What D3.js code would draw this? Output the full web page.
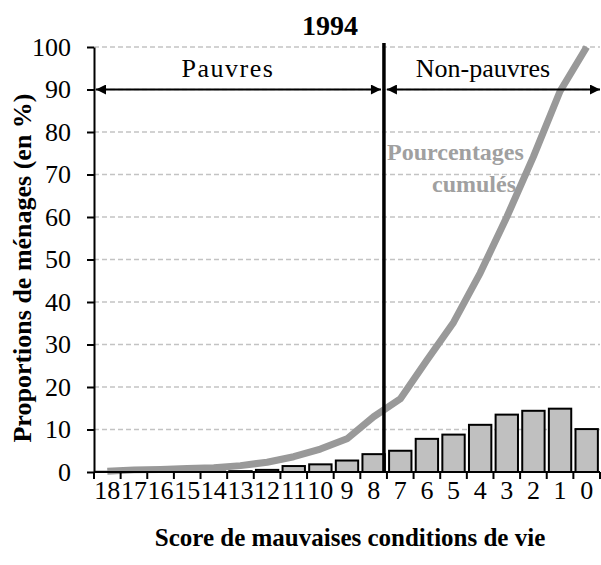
<!DOCTYPE html>
<html>
<head>
<meta charset="utf-8">
<script src="https://cdn.jsdelivr.net/npm/d3@7"></script>
<style>
  html, body { margin: 0; padding: 0; background: #fff; }
  svg { display: block; }
  svg text { font-family: "Liberation Serif", "Times New Roman", "DejaVu Serif", serif; }
</style>
</head>
<body>
<svg id="chart" width="601" height="565"></svg>
<script>
// Score categories, from worst (18) to best (0)
const scores = ["18","17","16","15","14","13","12","11","10","9","8","7","6","5","4","3","2","1","0"];
// Share of households at each score (%)
const shares = [0.05, 0.1, 0.1, 0.1, 0.1, 0.2, 0.5, 1.4, 1.8, 2.7, 4.2, 5.0, 7.8, 8.8, 11.1, 13.5, 14.4, 14.9, 10.1];
// Cumulated share of households (%)
const cumulated = [0.2, 0.5, 0.6, 0.8, 1.0, 1.5, 2.3, 3.6, 5.4, 7.8, 13.0, 17.2, 26.3, 35.2, 46.8, 60.0, 74.2, 89.6, 100];
const yTicks = [0, 10, 20, 30, 40, 50, 60, 70, 80, 90, 100];
const povertyCut = "7";        // first non-poor score
const arrowLevel = 90;

const serif = '"Liberation Serif", "Times New Roman", serif';
const svg = d3.select("#chart").attr("font-family", serif);
const plotLeft = 94, plotRight = 600, plotTop = 47, plotBottom = 472;

const x = d3.scaleBand().domain(scores).range([plotLeft, plotRight]).padding(0);
const y = d3.scaleLinear().domain([0, 100]).range([plotBottom, plotTop]);
const bw = x.bandwidth();

// horizontal dashed gridlines
svg.append("g").selectAll("line").data(yTicks.filter(d => d > 0)).join("line")
  .attr("x1", plotLeft).attr("x2", plotRight)
  .attr("y1", d => y(d)).attr("y2", d => y(d))
  .attr("stroke", "#c3c3c3").attr("stroke-width", 1.5)
  .attr("stroke-dasharray", "5,3");

// bars
svg.append("g").selectAll("rect").data(scores).join("rect")
  .attr("x", d => x(d) + bw * 0.08)
  .attr("width", bw * 0.84)
  .attr("y", (d, i) => y(shares[i]))
  .attr("height", (d, i) => y(0) - y(shares[i]))
  .attr("fill", "#c0c0c0").attr("stroke", "#000").attr("stroke-width", 2);

// "Pourcentages cumulés" caption
const cap = svg.append("text")
  .attr("fill", "#a0a0a0").attr("font-weight", "bold").attr("font-size", 24);
cap.append("tspan").attr("x", 387).attr("y", 160).text("Pourcentages");
cap.append("tspan").attr("x", 432).attr("y", 192).text("cumulés");

// cumulative curve
const line = d3.line()
  .x((d, i) => x(scores[i]) + bw / 2)
  .y(d => y(d));
svg.append("path").datum(cumulated)
  .attr("d", line)
  .attr("fill", "none").attr("stroke", "#999999").attr("stroke-width", 7)
  .attr("stroke-linejoin", "round");

// y axis
const yAxis = svg.append("g").attr("transform", `translate(${plotLeft},0)`)
  .call(d3.axisLeft(y).tickValues(yTicks).tickSize(7).tickPadding(16).tickSizeOuter(0))
  .attr("font-family", serif);
yAxis.select(".domain").attr("stroke", "#000").attr("stroke-width", 2);
yAxis.selectAll(".tick line").attr("stroke", "#000").attr("stroke-width", 2);
yAxis.selectAll(".tick text").attr("font-size", 26).attr("fill", "#000");

// x axis: labels centred in bands, ticks on band edges
const xAxis = svg.append("g").attr("transform", `translate(0,${plotBottom})`)
  .call(d3.axisBottom(x).tickSize(0).tickPadding(9).tickSizeOuter(0))
  .attr("font-family", serif);
xAxis.select(".domain").remove();
xAxis.selectAll(".tick text").attr("font-size", 26).attr("fill", "#000");
svg.append("line").attr("x1", plotLeft).attr("x2", plotRight)
  .attr("y1", plotBottom).attr("y2", plotBottom)
  .attr("stroke", "#000").attr("stroke-width", 2);
const edges = scores.map(d => x(d)).concat([x(scores[scores.length - 1]) + bw]);
svg.append("g").selectAll("line").data(edges).join("line")
  .attr("x1", d => d).attr("x2", d => d)
  .attr("y1", plotBottom).attr("y2", plotBottom + 7)
  .attr("stroke", "#000").attr("stroke-width", 2);

// poverty threshold
const cutX = x(povertyCut) - 3;
svg.append("line").attr("x1", cutX).attr("x2", cutX)
  .attr("y1", y(100) - 4).attr("y2", y(0))
  .attr("stroke", "#000").attr("stroke-width", 3.5);

// double arrows
const defs = svg.append("defs");
defs.append("marker").attr("id", "ah").attr("viewBox", "0 0 10 10")
  .attr("refX", 10).attr("refY", 5).attr("markerWidth", 7).attr("markerHeight", 5)
  .attr("markerUnits", "strokeWidth").attr("orient", "auto-start-reverse")
  .append("path").attr("d", "M0,0 L10,5 L0,10 Z").attr("fill", "#000");
const ay = y(arrowLevel);
[[plotLeft + 2, cutX - 3], [cutX + 3, plotRight]].forEach(([a, b]) => {
  svg.append("line").attr("x1", a).attr("x2", b).attr("y1", ay).attr("y2", ay)
    .attr("stroke", "#000").attr("stroke-width", 2)
    .attr("marker-start", "url(#ah)").attr("marker-end", "url(#ah)");
});

svg.append("text").attr("x", 228).attr("y", 77).attr("text-anchor", "middle")
  .attr("font-size", 26).attr("letter-spacing", 1.5).text("Pauvres");
svg.append("text").attr("x", 483).attr("y", 77).attr("text-anchor", "middle")
  .attr("font-size", 26).text("Non-pauvres");

// title
svg.append("text").attr("x", 330).attr("y", 35).attr("text-anchor", "middle")
  .attr("font-size", 28).attr("font-weight", "bold").text("1994");

// axis titles
svg.append("text").attr("x", 350).attr("y", 546).attr("text-anchor", "middle")
  .attr("font-size", 25).attr("font-weight", "bold").text("Score de mauvaises conditions de vie");
svg.append("text").attr("transform", "translate(31,268) rotate(-90)")
  .attr("text-anchor", "middle")
  .attr("font-size", 26).attr("font-weight", "bold").text("Proportions de ménages (en %)");
</script>
</body>
</html>
